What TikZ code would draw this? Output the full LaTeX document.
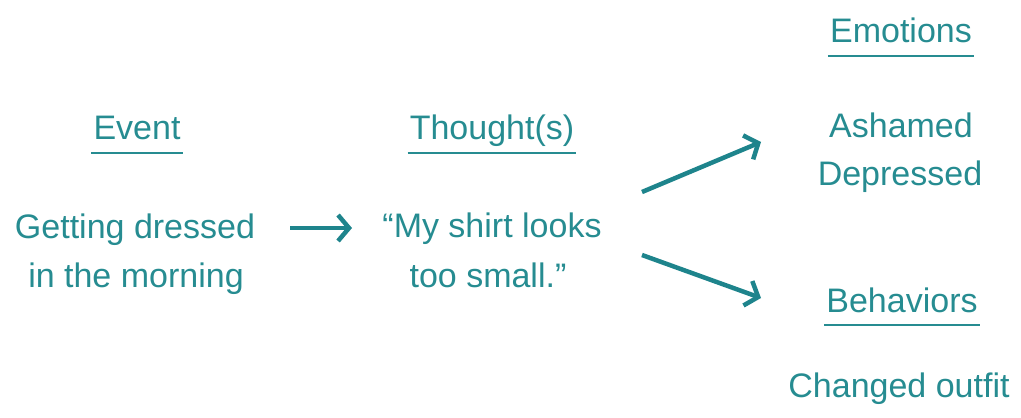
\documentclass[tikz,border=0pt]{standalone}
\usepackage{fontspec}
\setmainfont{Liberation Sans}
\usetikzlibrary{arrows.meta}
\definecolor{tealtxt}{RGB}{38,140,145}
\definecolor{tealarr}{RGB}{30,132,140}
\tikzset{
  lbl/.style={anchor=base, inner sep=0pt, text=tealtxt, font=\fontsize{34}{40}\selectfont},
  uline/.style={draw=tealtxt, line width=2.6pt},
  arr/.style={draw=tealarr, line width=4.5pt, -{Straight Barb[length=11pt,width=26pt]}}
}
\begin{document}
\begin{tikzpicture}[x=1pt,y=-1pt]
\useasboundingbox (0,0) rectangle (1021,418);
% headings
\node[lbl] (hev) at (137,139) {Event};
\node[lbl] (hth) at (492,139) {Thought(s)};
\node[lbl] (hem) at (901,42) {Emotions};
\node[lbl] (hbe) at (902,312) {Behaviors};
% underlines
\draw[uline] ([xshift=-2pt,yshift=-14pt]hev.base west) -- ([xshift=2pt,yshift=-14pt]hev.base east);
\draw[uline] ([xshift=-2pt,yshift=-14pt]hth.base west) -- ([xshift=2pt,yshift=-14pt]hth.base east);
\draw[uline] ([xshift=-2pt,yshift=-14pt]hem.base west) -- ([xshift=2pt,yshift=-14pt]hem.base east);
\draw[uline] ([xshift=-2pt,yshift=-13pt]hbe.base west) -- ([xshift=2pt,yshift=-13pt]hbe.base east);
% contents
\node[lbl] (ev1) at (135,238) {Getting dressed};
\node[lbl] (ev2) at (136,287) {in the morning};
\node[lbl] (th1) at (492,237) {“My shirt looks};
\node[lbl] (th2) at (488,287) {too small.”};
\node[lbl] (em1) at (901,137) {Ashamed};
\node[lbl] (em2) at (900,185) {Depressed};
\node[lbl] (be1) at (899,397) {Changed outfit};
% connectors
\coordinate (a1s) at (290,228);
\coordinate (a1e) at (352,228);
\coordinate (a2s) at (642,192);
\coordinate (a2e) at (761,142);
\coordinate (a3s) at (642,255);
\coordinate (a3e) at (761,298);
\draw[arr] (a1s) -- (a1e);
\draw[arr] (a2s) -- (a2e);
\draw[arr] (a3s) -- (a3e);
\end{tikzpicture}
\end{document}
